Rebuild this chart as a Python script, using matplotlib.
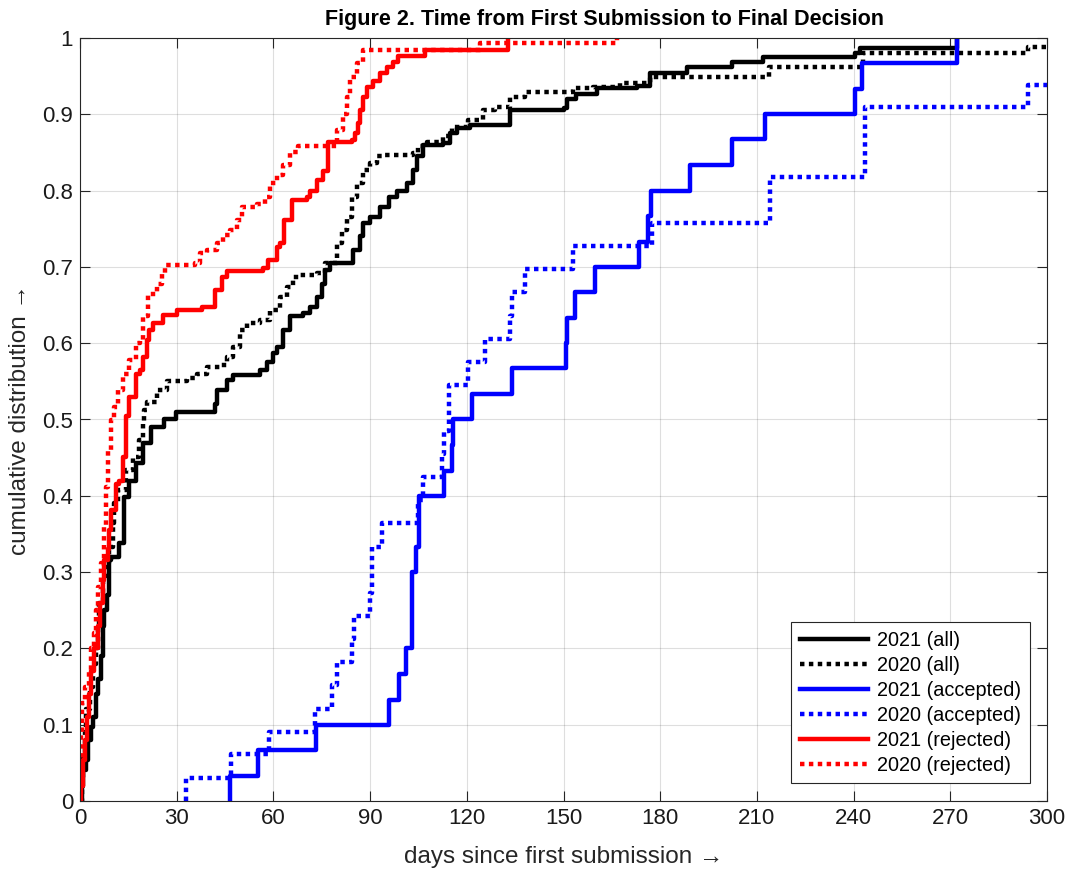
import matplotlib
matplotlib.use("Agg")
import matplotlib.pyplot as plt

all21_x = [0, 0.5, 1, 1.9, 2.5, 3.4, 4, 5, 5.5, 6.5, 7, 7.5, 8.3, 9, 9.6, 12.2, 13.8, 15.3, 17.4, 19.4,
           22, 26.2, 29.8, 41.9, 42.4, 45.5, 47.6, 55.8, 57.9, 60, 61, 63.1, 65.2, 69.3, 71.4, 73.4, 75, 76,
           77.6, 84.8, 86.8, 87.8, 90, 93, 96, 98.3, 101.4, 103.4, 104.5, 106.5, 112.7, 114.8, 116.9, 121,
           133.4, 150, 151, 154, 160.3, 172.7, 176.9, 188.2, 202.2, 212, 240.5, 242, 272]
all21_y = [0, 0.02, 0.04, 0.054, 0.08, 0.097, 0.11, 0.14, 0.16, 0.19, 0.23, 0.25, 0.27, 0.316, 0.32, 0.338,
           0.399, 0.42, 0.443, 0.469, 0.49, 0.5, 0.51, 0.52, 0.539, 0.552, 0.558, 0.565, 0.576, 0.587, 0.595,
           0.617, 0.635, 0.639, 0.648, 0.661, 0.678, 0.696, 0.705, 0.722, 0.74, 0.757, 0.766, 0.779, 0.792,
           0.8, 0.81, 0.827, 0.845, 0.86, 0.862, 0.875, 0.882, 0.886, 0.906, 0.908, 0.92, 0.927, 0.934, 0.937,
           0.954, 0.962, 0.969, 0.975, 0.98, 0.987, 1.0]

all20_x = [0, 0.5, 1, 1.5, 2, 3, 4, 5, 5.5, 6, 7, 8, 9.1, 10.1, 10.6, 11.7, 14.3, 16.3, 18.4, 19.4, 20,
           20.7, 23.8, 26.9, 33.1, 36.2, 39.3, 43.4, 45.5, 47.6, 49.6, 51.7, 55.8, 59, 62, 64.1, 66.2, 68.3,
           73.4, 76, 79.6, 81.2, 82.7, 84.3, 85.8, 87.9, 90, 92, 94.1, 103.4, 105, 107.6, 112.7, 115.3,
           120.5, 125.1, 128.8, 133.4, 138.1, 153, 159.3, 167.5, 175.8, 177.9, 213.6, 243, 294.2, 300]
all20_y = [0, 0.03, 0.06, 0.09, 0.12, 0.15, 0.18, 0.2, 0.23, 0.26, 0.29, 0.31, 0.333, 0.364, 0.39, 0.408,
           0.434, 0.451, 0.473, 0.495, 0.512, 0.523, 0.539, 0.55, 0.554, 0.56, 0.569, 0.571, 0.582, 0.595,
           0.617, 0.626, 0.63, 0.643, 0.661, 0.674, 0.687, 0.689, 0.692, 0.705, 0.731, 0.748, 0.766, 0.792,
           0.81, 0.827, 0.836, 0.845, 0.847, 0.849, 0.858, 0.864, 0.871, 0.884, 0.892, 0.906, 0.91, 0.923,
           0.929, 0.934, 0.936, 0.941, 0.945, 0.949, 0.962, 0.98, 0.988, 0.988]

acc21_x = [46.5, 46.5, 55.1, 73.1, 96, 99.1, 101.1, 103.1, 104.1, 105.3, 113, 115.3, 115.8, 121.5, 134,
           150.7, 151.2, 153.6, 159.8, 173.3, 176.2, 177.3, 189.2, 202.2, 212.5, 240.5, 242.5, 272]
acc21_y = [0, 0.033, 0.067, 0.1, 0.133, 0.167, 0.2, 0.3, 0.333, 0.4, 0.433, 0.467, 0.5, 0.533, 0.567,
           0.6, 0.633, 0.667, 0.7, 0.733, 0.767, 0.8, 0.833, 0.867, 0.9, 0.933, 0.967, 1.0]

acc20_x = [32.8, 32.8, 46.9, 58.6, 72.9, 78.1, 79.8, 84.3, 85, 90, 90.5, 93.6, 105, 106.5, 112.2, 112.8,
           114.6, 120.5, 125.7, 133.4, 134, 138.1, 153, 177.5, 214.1, 243.6, 294.2, 300]
acc20_y = [0, 0.03, 0.061, 0.091, 0.121, 0.152, 0.182, 0.212, 0.242, 0.273, 0.333, 0.364, 0.394, 0.424,
           0.455, 0.485, 0.545, 0.576, 0.606, 0.636, 0.667, 0.697, 0.727, 0.758, 0.818, 0.909, 0.939, 0.939]

rej21_x = [0, 0.3, 0.8, 1.5, 2.2, 2.9, 3.5, 4.3, 5.5, 6.2, 7, 7.5, 8.6, 9.1, 9.6, 11.2, 12.2, 13.2, 14.3,
           15.3, 17.4, 18.6, 19.4, 20.7, 21.5, 22.7, 25.8, 30, 37.7, 41.9, 44, 45.5, 56.9, 58.4, 61, 62,
           63.4, 65.7, 70.3, 71.4, 73.4, 75.5, 77, 84.3, 85.3, 86.4, 86.9, 87.9, 89, 91, 93.1, 95.2, 97.2,
           98.8, 107, 132.8]
rej21_y = [0, 0.02, 0.054, 0.08, 0.11, 0.14, 0.17, 0.2, 0.23, 0.26, 0.29, 0.316, 0.33, 0.355, 0.381, 0.416,
           0.42, 0.451, 0.504, 0.53, 0.56, 0.565, 0.582, 0.604, 0.617, 0.626, 0.637, 0.643, 0.648, 0.67,
           0.687, 0.694, 0.698, 0.709, 0.726, 0.731, 0.761, 0.788, 0.792, 0.8, 0.814, 0.826, 0.864, 0.866,
           0.875, 0.888, 0.906, 0.923, 0.936, 0.943, 0.954, 0.962, 0.969, 0.976, 0.984, 1.0]

rej20_x = [0, 0, 0.2, 0.4, 0.6, 1.5, 2.9, 3.5, 4.3, 5, 5.7, 6.5, 7.5, 8.1, 8.6, 9.6, 10.6, 11.7, 13.2, 15.3,
           17.4, 18.6, 19.6, 21.2, 23.8, 25.3, 26.4, 35.7, 37.2, 39.3, 42.4, 44.5, 46.5, 48.6, 50.2, 54.8,
           57.4, 59, 61, 63.1, 65.2, 67.5, 79.6, 81.7, 82.7, 83.8, 85.8, 87.9, 124, 166.6]
rej20_y = [0, 0.03, 0.06, 0.09, 0.128, 0.15, 0.17, 0.2, 0.22, 0.25, 0.28, 0.312, 0.36, 0.412, 0.46, 0.499,
           0.517, 0.539, 0.56, 0.578, 0.6, 0.604, 0.635, 0.665, 0.678, 0.692, 0.702, 0.705, 0.718, 0.722,
           0.731, 0.742, 0.748, 0.761, 0.779, 0.783, 0.792, 0.81, 0.82, 0.834, 0.85, 0.858, 0.879, 0.9,
           0.923, 0.949, 0.967, 0.984, 0.993, 1.0]

series = [
    (all21_x, all21_y, "k", "-", "2021 (all)"),
    (all20_x, all20_y, "k", ":", "2020 (all)"),
    (acc21_x, acc21_y, "#0000ff", "-", "2021 (accepted)"),
    (acc20_x, acc20_y, "#0000ff", ":", "2020 (accepted)"),
    (rej21_x, rej21_y, "#ff0000", "-", "2021 (rejected)"),
    (rej20_x, rej20_y, "#ff0000", ":", "2020 (rejected)"),
]

plt.rcParams['font.family'] = ['Liberation Sans', 'DejaVu Sans']
axcol = (0.15, 0.15, 0.15)

fig = plt.figure(figsize=(10.71, 8.72), dpi=100)
ax = fig.add_axes([80 / 1071, 1 - 801 / 872, 967 / 1071, 763 / 872])

for xs, ys, col, ls, lab in series:
    if ls == ":":
        ax.step(xs, ys, where="post", color=col, linestyle=(0, (1, 1)), linewidth=3.2,
                label=lab, dash_capstyle="butt")
    else:
        ax.step(xs, ys, where="post", color=col, linestyle="-", linewidth=3.2, label=lab)

ax.set_xlim(0, 300)
ax.set_ylim(0, 1)
ax.set_xticks(range(0, 301, 30))
ax.set_yticks([i / 10 for i in range(11)])
ax.set_yticklabels(["0"] + ["%.1f" % (i / 10) for i in range(1, 10)] + ["1"])
ax.grid(True, color=(0.15, 0.15, 0.15), alpha=0.15, linewidth=0.8)
ax.tick_params(direction="in", top=True, right=True, length=7, width=0.8,
               labelsize=16, colors=axcol, labelcolor=(0.1, 0.1, 0.1), pad=5)
for sp in ax.spines.values():
    sp.set_color(axcol)
    sp.set_linewidth(0.8)

ax.set_xlabel("days since first submission \u2192", fontsize=17.5, color=(0.15, 0.15, 0.15), labelpad=12)
ax.set_ylabel("cumulative distribution \u2192", fontsize=17.5, color=(0.15, 0.15, 0.15), labelpad=8)
ax.set_title("Figure 2. Time from First Submission to Final Decision", fontsize=15.5, fontweight="bold",
             family=['Liberation Sans Narrow', 'Liberation Sans'], x=0.542, pad=9)

leg = ax.legend(loc="lower right", bbox_to_anchor=(0.982, 0.023), borderaxespad=0, fontsize=14.3,
                handlelength=3.4, labelspacing=0.3, fancybox=False, framealpha=1,
                edgecolor=axcol, borderpad=0.45, handletextpad=0.45)
leg.get_frame().set_linewidth(0.8)

fig.savefig("out.png", dpi=100)
